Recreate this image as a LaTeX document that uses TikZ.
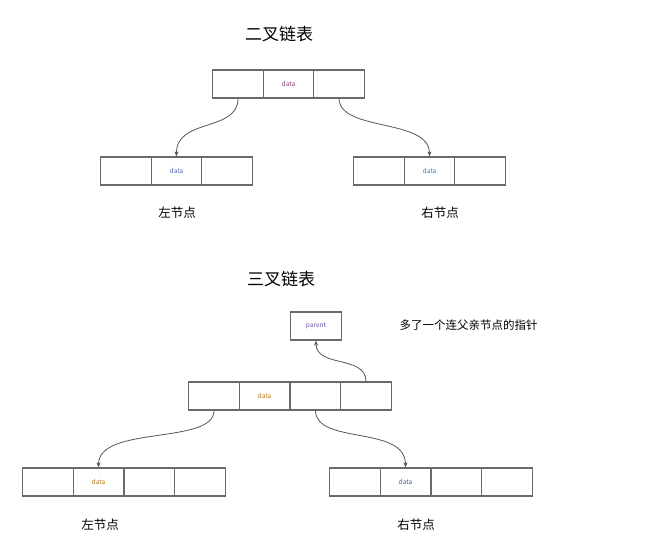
\documentclass[tikz,border=0pt]{standalone}
\usepackage{fontspec}
\setmainfont{Noto Sans CJK SC}
\usetikzlibrary{arrows.meta}
\definecolor{boxline}{HTML}{6A6A6A}
\definecolor{arrline}{HTML}{555555}
\begin{document}
\begin{tikzpicture}[x=1pt,y=-1pt,
  cell/.style={draw=boxline,line width=1.3pt,minimum width=50.5pt,minimum height=28pt,inner sep=0pt,font=\fontsize{6.5}{7}\selectfont},
  title/.style={font=\fontsize{17}{18}\selectfont,text=black},
  lbl/.style={font=\fontsize{12.5}{13}\selectfont,text=black},
  note/.style={font=\fontsize{11.5}{12}\selectfont,text=black,anchor=west},
  link/.style={draw=arrline,line width=0.8pt,-{Stealth[length=5pt,width=4pt]}}]
\useasboundingbox (0,0) rectangle (652,552);
% ---------- binary ----------
\node[title] (t1) at (279,34) {二叉链表};
\node[cell] (a1) at (238,84) {};
\node[cell,text={rgb,255:red,130;green,60;blue,110}] (a2) at (288.5,84) {data};
\node[cell] (a3) at (339,84) {};
\node[cell] (l1) at (126,171) {};
\node[cell,text={rgb,255:red,80;green,100;blue,160}] (l2) at (176.5,171) {data};
\node[cell] (l3) at (227,171) {};
\node[cell] (r1) at (379,171) {};
\node[cell,text={rgb,255:red,50;green,120;blue,190}] (r2) at (429.5,171) {data};
\node[cell] (r3) at (480,171) {};
\node[lbl] (ll) at (177,213) {左节点};
\node[lbl] (rl) at (440,213) {右节点};
\draw[link] (a1.south) .. controls (238,132) and (176,118) .. (l2.north);
\draw[link] (a3.south) .. controls (340,132) and (429.5,118) .. (r2.north);
% ---------- ternary ----------
\node[title] (t2) at (281,279) {三叉链表};
\node[cell,text={rgb,255:red,110;green,80;blue,160}] (p) at (316,326) {parent};
\node[note] (n) at (396,325) {多了一个连父亲节点的指针};
\node[cell] (m1) at (214,396) {};
\node[cell,text={rgb,255:red,190;green,120;blue,30}] (m2) at (264.5,396) {data};
\node[cell] (m3) at (315.5,396) {};
\node[cell] (m4) at (366,396) {};
\node[cell] (b1) at (48,482) {};
\node[cell,text={rgb,255:red,180;green,120;blue,30}] (b2) at (98.5,482) {data};
\node[cell] (b3) at (149.5,482) {};
\node[cell] (b4) at (200,482) {};
\node[cell] (c1) at (355,482) {};
\node[cell,text={rgb,255:red,70;green,90;blue,160}] (c2) at (405.5,482) {data};
\node[cell] (c3) at (456.5,482) {};
\node[cell] (c4) at (507,482) {};
\node[lbl] (bl) at (100,525) {左节点};
\node[lbl] (cl) at (416,525) {右节点};
\draw[link] (m4.north) .. controls (366,355) and (316,368) .. (p.south);
\draw[link] (m1.south) .. controls (214,445) and (98.5,425) .. (b2.north);
\draw[link] (m3.south) .. controls (316,445) and (405.5,425) .. (c2.north);
\end{tikzpicture}
\end{document}
